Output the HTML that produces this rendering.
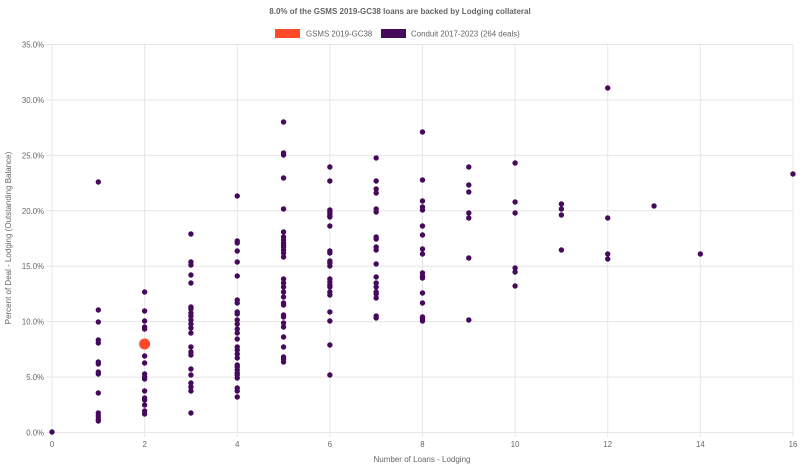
<!DOCTYPE html>
<html><head><meta charset="utf-8"><style>
body{margin:0;background:#fff;}
svg{display:block;font-family:"Liberation Sans",sans-serif;}
</style></head><body>
<svg id="s" width="800" height="467" viewBox="0 0 800 467">
<text x="400" y="14" text-anchor="middle" font-size="8" font-weight="bold" fill="#666">8.0% of the GSMS 2019-GC38 loans are backed by Lodging collateral</text>
<rect x="275" y="29" width="25" height="9" fill="#ff4a2a"/>
<text x="306" y="36.5" font-size="7.9" fill="#666">GSMS 2019-GC38</text>
<rect x="381" y="29" width="25" height="9" fill="#450a5c"/>
<text x="411" y="36.5" font-size="7.9" fill="#666">Conduit 2017-2023 (264 deals)</text>
<g id="grid" stroke="#e6e6e6" stroke-width="1"></g>
<g id="lab" font-size="7.8" fill="#666"></g>
<text x="422" y="462" text-anchor="middle" font-size="8" fill="#666">Number of Loans - Lodging</text>
<text transform="translate(11,238) rotate(-90)" text-anchor="middle" font-size="8" fill="#666">Percent of Deal - Lodging (Outstanding Balance)</text>
<g id="pts" fill="#450a5c"></g>
<circle cx="144.6" cy="344" r="5.5" fill="#ff4a2a"/>
</svg>
<script>
var ns="http://www.w3.org/2000/svg";
function el(p,t,a,txt){var e=document.createElementNS(ns,t);for(var k in a)e.setAttribute(k,a[k]);if(txt)e.textContent=txt;document.getElementById(p).appendChild(e);}
var X0=52,XU=46.31,Y0=432.5,YU=(432.5-44.5)/35;
for(var i=0;i<=7;i++){var y=Y0-i*5*YU;el("grid","line",{x1:46,x2:793,y1:y,y2:y});el("lab","text",{x:44,y:y+3,"text-anchor":"end"},(i*5).toFixed(1)+"%");}
for(var j=0;j<=16;j+=2){var x=X0+j*XU;el("grid","line",{x1:x,x2:x,y1:44.5,y2:437});el("lab","text",{x:x,y:447,"text-anchor":"middle"},""+j);}
var d={0:[432],1:[182,310,322,340,343,362,364,372,374,393,413,416,419,421],
2:[292,311,321,327,329,356,363,374,377,379,391,398,400,405,411,414],
3:[234,262,265,275,283,307,309,313,316,320,324,328,333,347,352,355,369,375,383,387,391,413],
4:[196,241,243,251,262,276,300,303,312,314,320,324,329,333,339,347,350,354,358,365,367,370,373,375,378,388,391,397],
5:[122,153,155,178,209,232,237,240,243,245,247,250,253,257,279,283,287,292,297,303,305,315,317,323,327,337,347,357,359,362],
6:[167,181,210,212,214,216,217,226,251,253,261,263,266,279,282,285,287,292,295,312,321,345,375],
7:[158,181,189,193,209,212,237,239,247,250,264,277,283,287,292,294,298,316,318],
8:[132,180,201,207,210,226,235,249,254,273,276,278,293,303,317,319,321],
9:[167,185,192,213,218,258,320],10:[163,202,213,268,272,286],11:[204,209,215,250],
12:[88,218,254,259],13:[206],14:[254],16:[174]};
for(var k in d){d[k].forEach(function(y){el("pts","circle",{cx:X0+k*XU,cy:y,r:2.7});});}
</script>
</body></html>
